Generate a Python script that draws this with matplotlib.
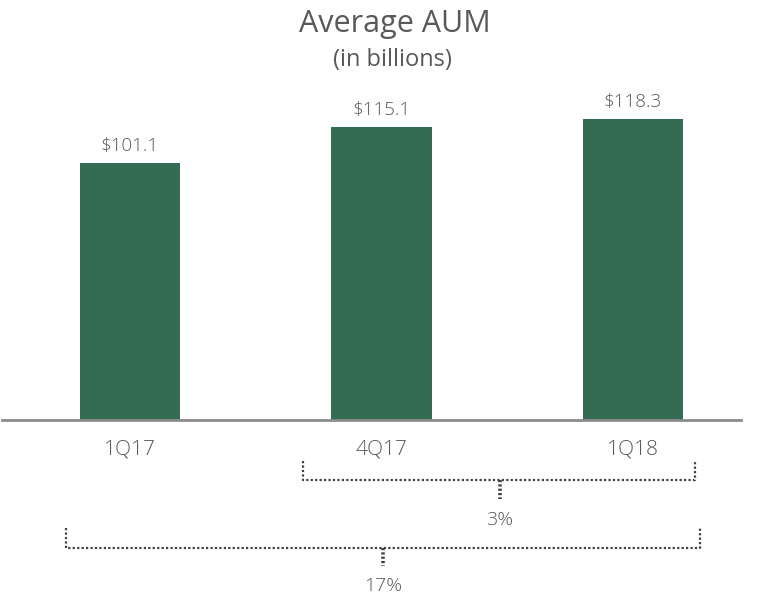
import matplotlib.pyplot as plt
from matplotlib.lines import Line2D

quarters = ['1Q17', '4Q17', '1Q18']
aum = [101.1, 115.1, 118.3]
bar_labels = ['$101.1', '$115.1', '$118.3']
growth_labels = ['3%', '17%']

plt.rcParams['font.family'] = ['Open Sans', 'DejaVu Sans']
text_color = '#595959'
bar_color = '#336b53'

fig = plt.figure(figsize=(7.61, 6.05), dpi=100)
W, H = 761, 605

# axes placed in pixel terms: baseline at y=420, x from 2 to 741
ax = fig.add_axes([2 / W, 1 - 420 / H, 739 / W, 331 / H])
x = range(len(quarters))
bars = ax.bar(x, aum, width=0.4, color=bar_color)
ax.set_xlim(-0.509, 2.43)
ax.set_ylim(0, 130)
for b, lab in zip(bars, bar_labels):
    ax.text(b.get_x() + b.get_width() / 2, b.get_height() + 3, lab,
            ha='center', va='bottom', fontsize=13.5, color=text_color,
            fontweight='light')
for s in ['top', 'right', 'left']:
    ax.spines[s].set_visible(False)
ax.spines['bottom'].set_color('#8c8c8c')
ax.spines['bottom'].set_linewidth(2)
ax.set_yticks([])
ax.set_xticks(list(x))
ax.set_xticklabels(quarters, fontsize=15, color=text_color, fontweight='light')
ax.tick_params(axis='x', length=0, pad=14)

fig.text(395 / W, 1 - 24 / H, 'Average AUM', ha='center', va='center',
         fontsize=22, color=text_color)
fig.text(392 / W, 1 - 60 / H, '(in billions)', ha='center', va='center',
         fontsize=17, color=text_color)


def bracket(x0, x1, ytop, ymid, xs, ystem, label, ylab):
    # dotted bracket spanning the compared bars, with a short stem to the label
    style = dict(color='#404040', linestyle=(0, (1, 1)), linewidth=1.6)
    pts_x = [x0, x0, x1, x1]
    pts_y = [ytop, ymid, ymid, ytop]
    fig.add_artist(Line2D([p / W for p in pts_x], [1 - p / H for p in pts_y],
                          transform=fig.transFigure, **style))
    fig.add_artist(Line2D([xs / W, xs / W], [1 - ymid / H, 1 - ystem / H],
                          transform=fig.transFigure, color='#404040',
                          linestyle=(0, (0.6, 0.6)), linewidth=2.6))
    fig.text(xs / W, 1 - ylab / H, label, ha='center', va='center',
             fontsize=14, color=text_color, fontweight='light')


bracket(303, 695, 461, 480, 500, 499, growth_labels[0], 520)
bracket(66, 700, 528, 548, 383, 566, growth_labels[1], 586)

plt.savefig('out.png', dpi=100)
